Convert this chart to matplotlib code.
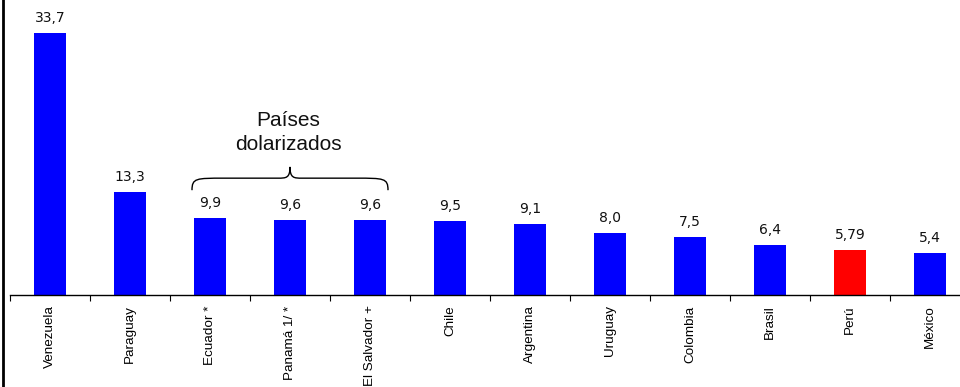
import matplotlib.pyplot as plt
from matplotlib.path import Path
from matplotlib.patches import PathPatch
from matplotlib.lines import Line2D

paises = ["Venezuela", "Paraguay", "Ecuador *", "Panamá 1/ *", "El Salvador +",
          "Chile", "Argentina", "Uruguay", "Colombia", "Brasil", "Perú", "México"]
valores = [33.7, 13.3, 9.9, 9.6, 9.6, 9.5, 9.1, 8.0, 7.5, 6.4, 5.79, 5.4]
etiquetas = ["33,7", "13,3", "9,9", "9,6", "9,6", "9,5", "9,1", "8,0", "7,5", "6,4", "5,79", "5,4"]
colores = ["#0000FF"] * 10 + ["#FF0000", "#0000FF"]

plt.rcParams['font.family'] = ['Liberation Sans', 'DejaVu Sans']

fig = plt.figure(figsize=(9.6, 3.87), dpi=100)
ax = fig.add_axes([10 / 960, 92 / 387, 950 / 960, 295 / 387])

x = list(range(len(paises)))
ax.bar(x, valores, width=0.41, color=colores, zorder=2)
for xi, v, t in zip(x, valores, etiquetas):
    ax.annotate(t, (xi, v), xytext=(0, 8), textcoords='offset points',
                ha='center', va='baseline', fontsize=10, family='DejaVu Sans',
                color='#111111')

ax.set_xlim(-0.5, 11.375)
ax.set_ylim(0, 38)
ax.set_yticks([])
for s in ['left', 'right', 'top']:
    ax.spines[s].set_visible(False)
ax.spines['bottom'].set_linewidth(1.0)

ax.set_xticks(x)
ax.set_xticklabels(paises, rotation=90, fontsize=9.7)
ax.tick_params(axis='x', which='major', length=0, pad=7.5)
ax.set_xticks([i - 0.5 for i in x], minor=True)
ax.tick_params(axis='x', which='minor', length=4, width=0.8, color='black')

# llave sobre los países dolarizados
x0, x1, xm = 1.775, 4.225, 3.0
y0, yh, yp = 13.5, 15.05, 16.5
verts = [
    (x0, y0),
    (x0, yh), (x0 + 0.05, yh), (x0 + 0.4, yh),
    (xm - 0.15, yh),
    (xm - 0.05, yh), (xm, yh), (xm, yp),
    (xm, yh), (xm + 0.05, yh), (xm + 0.15, yh),
    (x1 - 0.4, yh),
    (x1 - 0.05, yh), (x1, yh), (x1, y0),
]
codes = [Path.MOVETO,
         Path.CURVE4, Path.CURVE4, Path.CURVE4,
         Path.LINETO,
         Path.CURVE4, Path.CURVE4, Path.CURVE4,
         Path.CURVE4, Path.CURVE4, Path.CURVE4,
         Path.LINETO,
         Path.CURVE4, Path.CURVE4, Path.CURVE4]
ax.add_patch(PathPatch(Path(verts, codes), fill=False, lw=1.0, color='black'))
ax.text(xm - 0.02, 18.68, "Países\ndolarizados", ha='center', va='baseline',
        fontsize=15, linespacing=1.3, color='#111111')

# borde izquierdo
fig.add_artist(Line2D([3 / 960, 3 / 960], [0, 1], transform=fig.transFigure,
                      color='black', lw=2))

fig.savefig("out.png", dpi=100)
